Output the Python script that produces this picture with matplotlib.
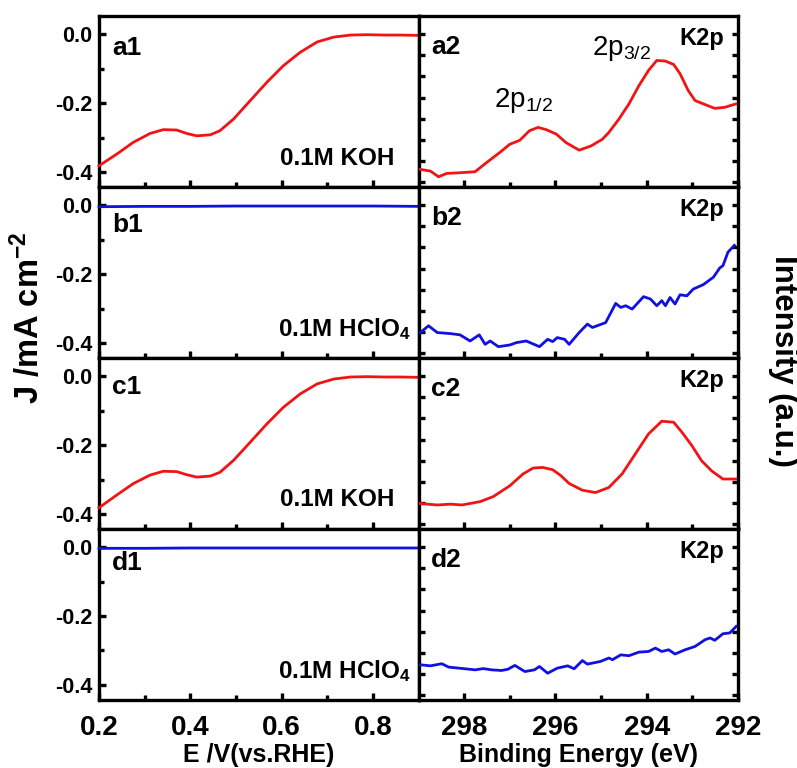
import matplotlib
matplotlib.use("Agg")
import matplotlib.pyplot as plt
from matplotlib.ticker import MultipleLocator, FixedLocator, NullFormatter, FormatStrFormatter

plt.rcParams.update({
    "font.family": "Liberation Sans",
    "font.weight": "bold",
    "axes.labelweight": "bold",
    "axes.unicode_minus": False,
    "mathtext.fontset": "custom",
    "mathtext.rm": "Liberation Sans:weight=normal",
    "mathtext.bf": "Liberation Sans:weight=bold",
    "mathtext.default": "bf",
})

# ---- LSV curves (E vs RHE, J in mA cm-2) ----
lsv_e = [0.200, 0.239, 0.275, 0.312, 0.341, 0.370, 0.392, 0.414, 0.444, 0.465,
         0.495, 0.531, 0.568, 0.604, 0.641, 0.678, 0.714, 0.751, 0.787, 0.824,
         0.860, 0.900]
j_koh_a = [-0.382, -0.348, -0.314, -0.288, -0.277, -0.278, -0.288, -0.295, -0.292, -0.280,
           -0.246, -0.193, -0.139, -0.091, -0.052, -0.022, -0.008, -0.002, -0.001, -0.002,
           -0.002, -0.003]
j_koh_c = [-0.382, -0.345, -0.312, -0.287, -0.276, -0.277, -0.286, -0.293, -0.290, -0.279,
           -0.244, -0.192, -0.138, -0.090, -0.051, -0.022, -0.008, -0.002, -0.001, -0.002,
           -0.002, -0.003]
acid_e = [0.20, 0.30, 0.40, 0.50, 0.60, 0.70, 0.80, 0.90]
j_acid_b = [-0.004, -0.003, -0.003, -0.002, -0.002, -0.002, -0.002, -0.003]
j_acid_d = [-0.003, -0.003, -0.002, -0.002, -0.002, -0.002, -0.002, -0.002]

# ---- K 2p XPS spectra (binding energy in eV, intensity in a.u.) ----
be_a = [298.96, 298.74, 298.56, 298.38, 298.09, 297.76, 297.51, 297.22, 297.00, 296.78,
        296.57, 296.38, 296.20, 295.98, 295.77, 295.48, 295.22, 294.97, 294.83, 294.61,
        294.39, 294.17, 293.96, 293.78, 293.59, 293.41, 293.27, 293.09, 292.94, 292.72,
        292.51, 292.29, 292.05]
int_a = [0.60, 0.52, 0.25, 0.41, 0.44, 0.49, 0.92, 1.40, 1.79, 1.98,
         2.43, 2.59, 2.48, 2.27, 1.87, 1.51, 1.71, 2.03, 2.35, 2.98,
         3.70, 4.57, 5.29, 5.76, 5.73, 5.57, 5.13, 4.33, 3.86, 3.67,
         3.49, 3.54, 3.70]

be_b = [298.96, 298.78, 298.59, 298.30, 298.09, 297.87, 297.67, 297.54, 297.43, 297.25,
        297.00, 296.86, 296.64, 296.35, 296.17, 296.06, 295.96, 295.80, 295.70, 295.48,
        295.30, 295.19, 294.90, 294.68, 294.57, 294.46, 294.32, 294.07, 293.92, 293.78,
        293.67, 293.59, 293.49, 293.38, 293.27, 293.12, 292.98, 292.76, 292.54, 292.40,
        292.33, 292.22, 292.08]
int_b = [0.97, 1.29, 0.97, 0.92, 0.86, 0.57, 0.86, 0.41, 0.57, 0.30,
         0.38, 0.49, 0.57, 0.30, 0.65, 0.54, 0.73, 0.65, 0.41, 0.97,
         1.37, 1.21, 1.44, 2.35, 2.16, 2.24, 2.08, 2.67, 2.56, 2.24,
         2.48, 2.24, 2.63, 2.32, 2.76, 2.71, 3.03, 3.24, 3.59, 4.03,
         4.14, 4.78, 5.10]

be_c = [298.96, 298.59, 298.30, 298.05, 297.65, 297.36, 297.00, 296.71, 296.49, 296.28,
        296.06, 295.88, 295.70, 295.41, 295.12, 294.83, 294.54, 294.25, 293.96, 293.67,
        293.41, 293.23, 293.01, 292.80, 292.58, 292.33, 292.05]
int_c = [0.97, 0.90, 0.94, 0.90, 1.06, 1.30, 1.81, 2.37, 2.65, 2.68,
         2.57, 2.29, 1.92, 1.60, 1.49, 1.73, 2.37, 3.32, 4.27, 4.87,
         4.82, 4.35, 3.71, 3.00, 2.52, 2.13, 2.13]

be_d = [298.96, 298.74, 298.49, 298.34, 298.02, 297.76, 297.58, 297.40, 297.18, 297.04,
        296.89, 296.67, 296.46, 296.35, 296.17, 295.96, 295.73, 295.59, 295.41, 295.30,
        295.01, 294.83, 294.75, 294.57, 294.39, 294.17, 293.96, 293.81, 293.67, 293.52,
        293.38, 293.16, 292.94, 292.72, 292.61, 292.51, 292.33, 292.18, 292.04]
int_d = [1.43, 1.38, 1.48, 1.32, 1.25, 1.19, 1.25, 1.19, 1.16, 1.22,
         1.40, 1.11, 1.19, 1.35, 1.03, 1.27, 1.38, 1.24, 1.63, 1.46,
         1.59, 1.75, 1.67, 1.90, 1.86, 2.03, 2.06, 2.22, 2.06, 2.14,
         1.94, 2.14, 2.30, 2.62, 2.70, 2.59, 2.90, 2.94, 3.25]

RED = "#f01414"
BLUE = "#1010e0"

fig, axes = plt.subplots(
    4, 2, figsize=(7.97, 7.68), dpi=100,
    gridspec_kw=dict(left=0.1242, right=0.926, top=0.979, bottom=0.0885,
                     hspace=0, wspace=0),
)

lsv_rows = [
    (lsv_e, j_koh_a, RED, "a1", "0.1M KOH", 0.815),
    (acid_e, j_acid_b, BLUE, "b1", "0.1M HClO$_4$", 0.78),
    (lsv_e, j_koh_c, RED, "c1", "0.1M KOH", 0.83),
    (acid_e, j_acid_d, BLUE, "d1", "0.1M HClO$_4$", 0.80),
]
xps_rows = [
    (be_a, int_a, RED, "a2"),
    (be_b, int_b, BLUE, "b2"),
    (be_c, int_c, RED, "c2"),
    (be_d, int_d, BLUE, "d2"),
]


def style_frame(ax):
    for s in ax.spines.values():
        s.set_linewidth(2.4)
    ax.tick_params(which="both", direction="in", width=2.4, colors="black")
    ax.tick_params(which="major", length=5)
    ax.tick_params(which="minor", length=3.5)


for i, (x, y, c, tag, sol, ty) in enumerate(lsv_rows):
    ax = axes[i, 0]
    ax.plot(x, y, color=c, lw=2.0, clip_on=False, zorder=3)
    ax.set_xlim(0.2, 0.9)
    ax.set_ylim(-0.444, 0.053)
    style_frame(ax)
    ax.xaxis.set_major_locator(FixedLocator([0.2, 0.4, 0.6, 0.8]))
    ax.xaxis.set_minor_locator(FixedLocator([0.3, 0.5, 0.7]))
    ax.yaxis.set_major_locator(FixedLocator([-0.4, -0.2, 0.0]))
    ax.yaxis.set_minor_locator(FixedLocator([-0.3, -0.1]))
    ax.yaxis.set_major_formatter(FormatStrFormatter("%.1f"))
    ax.tick_params(axis="y", labelsize=15.5, pad=5)
    ax.tick_params(axis="x", which="both", top=False, labelsize=20, pad=11)
    if i < 3:
        ax.tick_params(axis="x", labelbottom=False)
    else:
        ax.xaxis.set_major_formatter(FormatStrFormatter("%.1f"))
    ax.text(0.04, ty, tag, transform=ax.transAxes, fontsize=19,
            ha="left", va="center")
    sol_x = 0.925 if "KOH" in sol else 0.975
    ax.text(sol_x, 0.17, sol, transform=ax.transAxes, fontsize=17.5,
            ha="right", va="center")

for i, (x, y, c, tag) in enumerate(xps_rows):
    ax = axes[i, 1]
    ax.plot(x, y, color=c, lw=2.0, zorder=3)
    ax.set_xlim(299, 292)
    ax.set_ylim(-0.24, 7.86)
    style_frame(ax)
    ax.xaxis.set_major_locator(FixedLocator([298, 296, 294, 292]))
    ax.xaxis.set_minor_locator(FixedLocator([297, 295, 293]))
    ax.yaxis.set_major_locator(MultipleLocator(1))
    ax.yaxis.set_major_formatter(NullFormatter())
    ax.tick_params(axis="y", which="both", left=True, right=True, length=4)
    ax.tick_params(axis="x", which="both", top=False, labelsize=20, pad=11)
    if i < 3:
        ax.tick_params(axis="x", labelbottom=False)
    ax.text(0.04, 0.82, tag, transform=ax.transAxes, fontsize=19,
            ha="left", va="center")
    ax.text(0.955, 0.87, "K2p", transform=ax.transAxes, fontsize=17,
            ha="right", va="center")

# peak assignments on the KOH spectrum
axes[0, 1].text(297.35, 3.85, r"2p$_{\mathrm{1/2}}$", fontsize=20,
                fontweight="normal", ha="left", va="center")
axes[0, 1].text(295.2, 6.35, r"2p$_{\mathrm{3/2}}$", fontsize=20,
                fontweight="normal", ha="left", va="center")

axes[3, 0].set_xlabel("E /V(vs.RHE)", fontsize=18, labelpad=1)
axes[3, 1].set_xlabel("Binding Energy (eV)", fontsize=18, labelpad=1)

fig.text(28 / 797, 1 - 318 / 768, "J /mA cm$^{-2}$", rotation=90,
         fontsize=23.5, ha="center", va="center")
fig.text(783 / 797, 1 - 361 / 768, "Intensity (a.u.)", rotation=-90,
         fontsize=22.5, ha="center", va="center")

fig.savefig("out.png", dpi=100)
